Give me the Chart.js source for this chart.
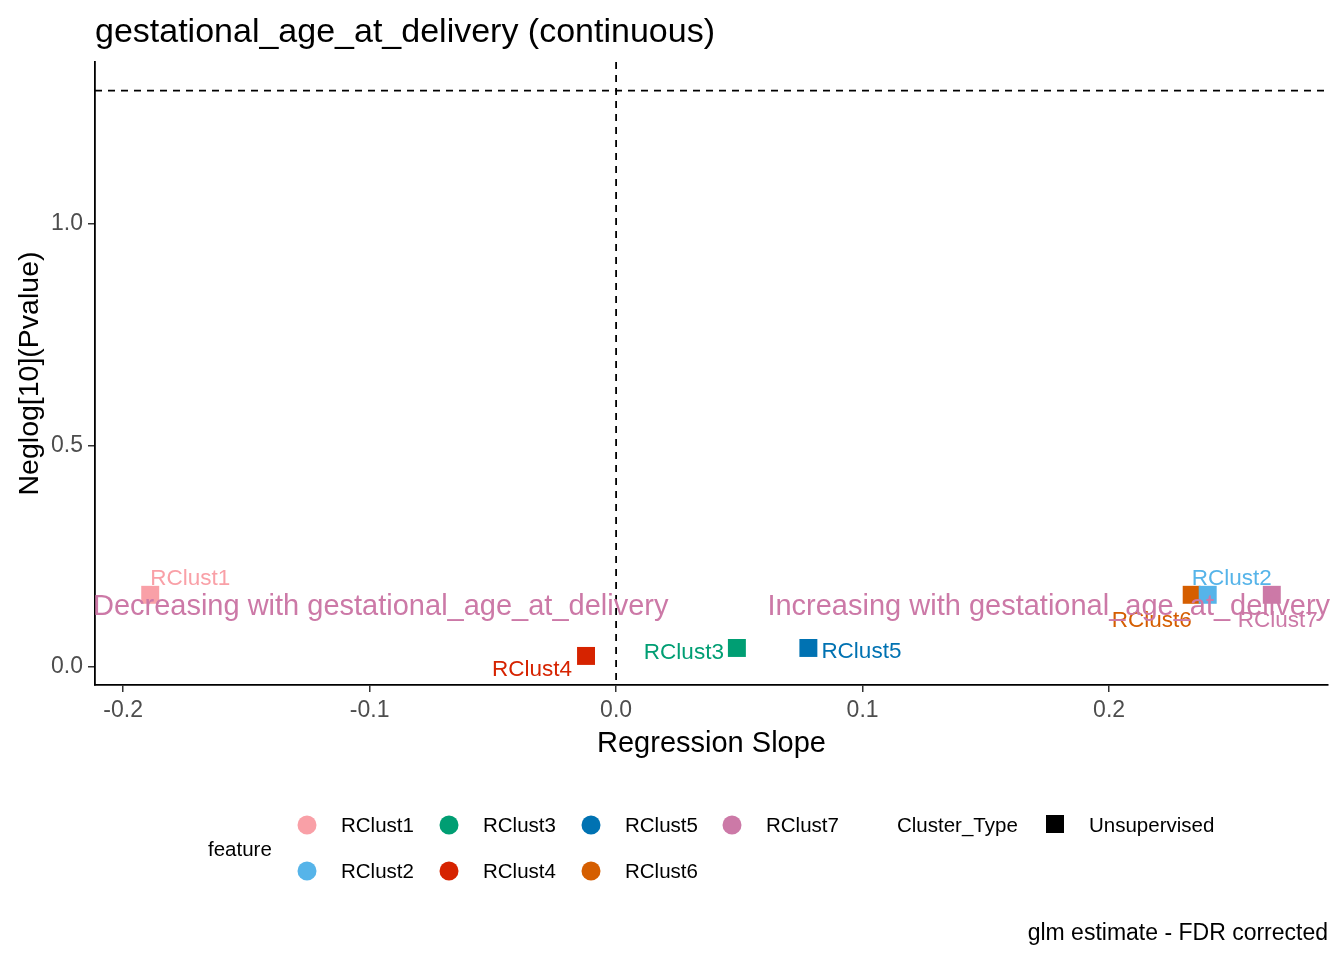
<!DOCTYPE html>
<html>
<head>
<meta charset="utf-8">
<script src="https://cdn.jsdelivr.net/npm/chart.js@4.4.1/dist/chart.umd.min.js"></script>
<style>
  html, body { margin: 0; padding: 0; background: #fff; }
  canvas { display: block; }
</style>
</head>
<body>
<canvas id="volcano" width="1344" height="960"></canvas>
<script>
// data
const clusters = ['RClust1', 'RClust2', 'RClust3', 'RClust4', 'RClust5', 'RClust6', 'RClust7'];
const slopes = [-0.189, 0.240, 0.049, -0.0122, 0.078, 0.2335, 0.266];
const negLogP = [0.163, 0.163, 0.043, 0.025, 0.043, 0.163, 0.163];
const clusterColors = ['#F9A0A7', '#56B4E9', '#009E73', '#D62300', '#0072B2', '#D55E00', '#CC79A7'];
const xTicks = [-0.2, -0.1, 0.0, 0.1, 0.2];
const yTicks = [0.0, 0.5, 1.0];
const pThreshold = -Math.log10(0.05);

// label placement (pixel offsets from the point, like ggrepel put them)
const labelPlace = [
  { dx: 0, dy: -18, align: 'left' },
  { dx: -16, dy: -18, align: 'left' },
  { dx: -13, dy: 3, align: 'right' },
  { dx: -14, dy: 12, align: 'right' },
  { dx: 13, dy: 2, align: 'left' },
  { dx: 0, dy: 24, align: 'right' },
  { dx: -34, dy: 24, align: 'left' }
];

const FONT = '"Liberation Sans", Arial, sans-serif';
const PINK = '#CC79A7';
const NUDGE = 2; // canvas 'middle' sits a bit higher than R's text centring

const overlay = {
  id: 'overlay',
  beforeDatasetsDraw(chart) {
    const { ctx, chartArea: a, scales: { x, y } } = chart;
    ctx.save();
    ctx.strokeStyle = '#000';
    ctx.lineWidth = 1.8;
    ctx.setLineDash([7, 6]);
    const x0 = x.getPixelForValue(0);
    ctx.beginPath();
    ctx.moveTo(x0, a.top);
    ctx.lineTo(x0, a.bottom);
    const yp = y.getPixelForValue(pThreshold);
    ctx.moveTo(a.left, yp);
    ctx.lineTo(a.right, yp);
    ctx.stroke();
    ctx.restore();
  },
  afterDatasetsDraw(chart) {
    const { ctx, chartArea: a, scales: { x, y } } = chart;
    ctx.save();
    ctx.textBaseline = 'middle';

    // point labels
    ctx.font = '22.5px ' + FONT;
    clusters.forEach((c, i) => {
      const p = labelPlace[i];
      ctx.fillStyle = clusterColors[i];
      ctx.textAlign = p.align;
      ctx.fillText(c, x.getPixelForValue(slopes[i]) + p.dx, y.getPixelForValue(negLogP[i]) + p.dy + NUDGE);
    });

    // direction annotations
    ctx.font = '29px ' + FONT;
    ctx.fillStyle = PINK;
    ctx.textAlign = 'center';
    ctx.fillText('Decreasing with gestational_age_at_delivery', x.getPixelForValue(-0.0955), y.getPixelForValue(0.14) + NUDGE);
    ctx.fillText('Increasing with gestational_age_at_delivery', x.getPixelForValue(0.1755), y.getPixelForValue(0.14) + NUDGE);

    // titles
    ctx.fillStyle = '#000';
    ctx.font = '34px ' + FONT;
    ctx.textAlign = 'left';
    ctx.fillText('gestational_age_at_delivery (continuous)', a.left, 33);

    ctx.font = '29px ' + FONT;
    ctx.textAlign = 'center';
    ctx.fillText('Regression Slope', (a.left + a.right) / 2, 744);
    ctx.font = '28.5px ' + FONT;
    ctx.save();
    ctx.translate(30, (a.top + a.bottom) / 2);
    ctx.rotate(-Math.PI / 2);
    ctx.fillText('Neglog[10](Pvalue)', 0, 0);
    ctx.restore();

    // legend
    ctx.font = '20.5px ' + FONT;
    ctx.textAlign = 'left';
    ctx.fillText('feature', 208, 850);
    const cols = [307, 449, 591, 732];
    const rows = [825, 871];
    clusters.forEach((c, i) => {
      const cx = cols[Math.floor(i / 2)];
      const cy = rows[i % 2];
      ctx.fillStyle = clusterColors[i];
      ctx.beginPath();
      ctx.arc(cx, cy, 9.5, 0, Math.PI * 2);
      ctx.fill();
      ctx.fillStyle = '#000';
      ctx.fillText(c, cx + 34, cy + 1);
    });
    ctx.fillText('Cluster_Type', 897, 826);
    ctx.fillRect(1046, 815, 18, 18);
    ctx.fillText('Unsupervised', 1089, 826);

    // caption
    ctx.font = '23px ' + FONT;
    ctx.textAlign = 'right';
    ctx.fillText('glm estimate - FDR corrected', a.right, 934);
    ctx.restore();
  }
};

const datasets = clusters.map((c, i) => ({
  label: c,
  data: [{ x: slopes[i], y: negLogP[i] }],
  pointStyle: 'rect',
  pointRadius: 12.7,
  pointHoverRadius: 12.7,
  borderWidth: 0,
  backgroundColor: clusterColors[i]
}));

const tickFont = { family: FONT, size: 23 };

new Chart(document.getElementById('volcano'), {
  type: 'scatter',
  data: { datasets },
  options: {
    responsive: false,
    animation: false,
    devicePixelRatio: 1,
    layout: { padding: { top: 62, right: 16, bottom: 200, left: 0 } },
    plugins: { legend: { display: false }, tooltip: { enabled: false } },
    scales: {
      x: {
        type: 'linear',
        min: -0.2114,
        max: 0.2888,
        afterBuildTicks: s => { s.ticks = xTicks.map(v => ({ value: v })); },
        afterFit: s => { s.height = 75; },
        ticks: { color: '#4D4D4D', font: tickFont, padding: 5, callback: v => v.toFixed(1) },
        grid: { drawOnChartArea: false, drawTicks: true, tickLength: 7, color: '#333', lineWidth: 1.5 },
        border: { display: true, color: '#000', width: 1.8 }
      },
      y: {
        type: 'linear',
        min: -0.0406,
        max: 1.3657,
        afterBuildTicks: s => { s.ticks = yTicks.map(v => ({ value: v })); },
        afterFit: s => { s.width = 95; },
        ticks: { color: '#4D4D4D', font: tickFont, padding: 5, callback: v => v.toFixed(1) },
        grid: { drawOnChartArea: false, drawTicks: true, tickLength: 7, color: '#333', lineWidth: 1.5 },
        border: { display: true, color: '#000', width: 1.8 }
      }
    }
  },
  plugins: [overlay]
});
</script>
</body>
</html>
